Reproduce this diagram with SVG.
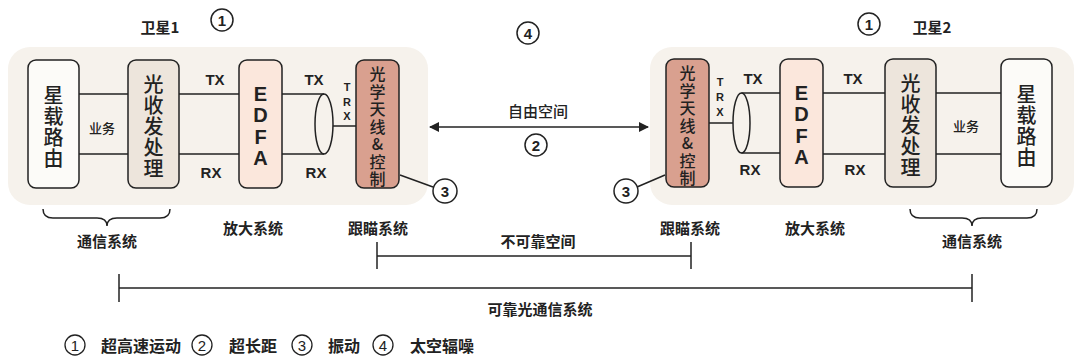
<svg xmlns="http://www.w3.org/2000/svg" width="1080" height="362" viewBox="0 0 1080 362">
<style>
  .panel{fill:#f6f2ec;stroke:none}
  .box{stroke:#222;stroke-width:1.5}
  .router{fill:#fcfbf8}
  .trx{fill:#ede5dc}
  .edfa{fill:#fbe7dc}
  .ant{fill:#d9a08f}
  .ln{stroke:#222;stroke-width:1.5;fill:none}
  .cn{font-family:"Noto Sans CJK SC","Noto Sans",sans-serif;fill:#222;text-anchor:middle;dominant-baseline:central}
  .box-t{font-size:20px;font-weight:500}
  .ant-t{font-size:16px;font-weight:500}
  .lab{font-family:"Liberation Sans","Noto Sans CJK SC",sans-serif;font-weight:700;font-size:15px;fill:#222;text-anchor:middle;dominant-baseline:central}
  .edfa-t{font-family:"Liberation Sans",sans-serif;font-weight:700;font-size:20px;fill:#222;text-anchor:middle;dominant-baseline:central}
  .small{font-family:"Liberation Sans",sans-serif;font-weight:700;font-size:11px;fill:#222;text-anchor:middle;dominant-baseline:central}
  .bold{font-weight:700;font-size:15px}
  .mid{font-size:15px;font-weight:500}
  .circ{fill:#fff;stroke:#222;stroke-width:1.5}
  .num{font-family:"Liberation Sans",sans-serif;font-weight:700;font-size:15px;fill:#222;text-anchor:middle;dominant-baseline:central}
  .lcirc{fill:none;stroke:#222;stroke-width:1.3}
  .lnum{font-family:"Liberation Sans",sans-serif;font-size:15px;fill:#222;text-anchor:middle;dominant-baseline:central}
</style>
<defs>
  <marker id="ah" viewBox="0 0 10 10" refX="9" refY="5" markerWidth="10" markerHeight="10" markerUnits="userSpaceOnUse" orient="auto-start-reverse">
    <path d="M0,0 L10,5 L0,10 z" fill="#222"/>
  </marker>
</defs>

<rect class="panel" x="8" y="47" width="420" height="158" rx="22"/>
<rect class="panel" x="650" y="47" width="424" height="158" rx="22"/>

<g id="connectors">
  <line class="ln" x1="79" y1="94" x2="128" y2="94"/>
  <line class="ln" x1="79" y1="154" x2="128" y2="154"/>
  <line class="ln" x1="179" y1="94" x2="239" y2="94"/>
  <line class="ln" x1="179" y1="154" x2="239" y2="154"/>
  <line class="ln" x1="282" y1="94" x2="324" y2="94"/>
  <line class="ln" x1="282" y1="154" x2="324" y2="154"/>
  <ellipse class="ln" cx="324" cy="124" rx="9" ry="30"/>
  <line class="ln" x1="333" y1="126" x2="356" y2="126"/>
  <line class="ln" x1="400" y1="175" x2="433" y2="187"/>
  <line class="ln" x1="709" y1="123" x2="733" y2="123"/>
  <ellipse class="ln" cx="741.5" cy="123" rx="8.5" ry="30"/>
  <line class="ln" x1="741.5" y1="93" x2="780" y2="93"/>
  <line class="ln" x1="741.5" y1="153" x2="780" y2="153"/>
  <line class="ln" x1="823" y1="93" x2="885" y2="93"/>
  <line class="ln" x1="823" y1="154" x2="885" y2="154"/>
  <line class="ln" x1="936" y1="93" x2="1001" y2="93"/>
  <line class="ln" x1="936" y1="154" x2="1001" y2="154"/>
  <line class="ln" x1="665" y1="175" x2="637" y2="187"/>
  <line class="ln" x1="430" y1="127" x2="648" y2="127" marker-start="url(#ah)" marker-end="url(#ah)"/>
  <path class="ln" d="M43,209 Q43,218 53,218 L97,218 Q107,218 107,226 Q107,218 117,218 L160,218 Q170,218 170,209"/>
  <path class="ln" d="M910,209 Q910,218 920,218 L962,218 Q972,218 972,226 Q972,218 982,218 L1027,218 Q1037,218 1037,209"/>
  <line class="ln" x1="377" y1="242" x2="377" y2="269"/>
  <line class="ln" x1="691" y1="242" x2="691" y2="269"/>
  <line class="ln" x1="377" y1="256" x2="691" y2="256"/>
  <line class="ln" x1="119" y1="274" x2="119" y2="302"/>
  <line class="ln" x1="972" y1="274" x2="972" y2="302"/>
  <line class="ln" x1="119" y1="288" x2="972" y2="288"/>
</g>

<g id="router1">
  <rect class="box router" x="28" y="60" width="51" height="128" rx="8"/>
  <text class="cn box-t"><tspan x="53.5" y="94">星</tspan><tspan x="53.5" y="115">载</tspan><tspan x="53.5" y="136">路</tspan><tspan x="53.5" y="157">由</tspan></text>
</g>
<g id="trx1">
  <rect class="box trx" x="128" y="60" width="51" height="128" rx="8"/>
  <text class="cn box-t"><tspan x="153.5" y="83">光</tspan><tspan x="153.5" y="104">收</tspan><tspan x="153.5" y="125">发</tspan><tspan x="153.5" y="146">处</tspan><tspan x="153.5" y="167">理</tspan></text>
</g>
<g id="edfa1">
  <rect class="box edfa" x="239" y="60" width="43" height="128" rx="8"/>
  <text class="edfa-t"><tspan x="260.5" y="94">E</tspan><tspan x="260.5" y="115">D</tspan><tspan x="260.5" y="137">F</tspan><tspan x="260.5" y="158">A</tspan></text>
</g>
<g id="antenna1">
  <rect class="box ant" x="356" y="60" width="43" height="128" rx="8"/>
  <text class="cn ant-t"><tspan x="377.5" y="73">光</tspan><tspan x="377.5" y="90.5">学</tspan><tspan x="377.5" y="108">天</tspan><tspan x="377.5" y="125.5">线</tspan><tspan x="377.5" y="143">&amp;</tspan><tspan x="377.5" y="160.5">控</tspan><tspan x="377.5" y="178">制</tspan></text>
</g>

<g id="antenna2">
  <rect class="box ant" x="666" y="59" width="43" height="128" rx="8"/>
  <text class="cn ant-t"><tspan x="687.5" y="72">光</tspan><tspan x="687.5" y="89.5">学</tspan><tspan x="687.5" y="107">天</tspan><tspan x="687.5" y="124.5">线</tspan><tspan x="687.5" y="142">&amp;</tspan><tspan x="687.5" y="159.5">控</tspan><tspan x="687.5" y="177">制</tspan></text>
</g>
<g id="edfa2">
  <rect class="box edfa" x="780" y="59" width="43" height="128" rx="8"/>
  <text class="edfa-t"><tspan x="801.5" y="93">E</tspan><tspan x="801.5" y="114">D</tspan><tspan x="801.5" y="136">F</tspan><tspan x="801.5" y="157">A</tspan></text>
</g>
<g id="trx2">
  <rect class="box trx" x="885" y="59" width="51" height="128" rx="8"/>
  <text class="cn box-t"><tspan x="910.5" y="82">光</tspan><tspan x="910.5" y="103">收</tspan><tspan x="910.5" y="124">发</tspan><tspan x="910.5" y="145">处</tspan><tspan x="910.5" y="166">理</tspan></text>
</g>
<g id="router2">
  <rect class="box router" x="1001" y="59" width="51" height="128" rx="8"/>
  <text class="cn box-t"><tspan x="1026.5" y="93">星</tspan><tspan x="1026.5" y="114">载</tspan><tspan x="1026.5" y="135">路</tspan><tspan x="1026.5" y="156">由</tspan></text>
</g>

<g id="labels">
  <text class="cn" style="font-size:13px;font-weight:500" x="102" y="127">业务</text>
  <text class="cn" style="font-size:13px;font-weight:500" x="966" y="125">业务</text>
  <text class="lab" x="215" y="79">TX</text>
  <text class="lab" x="211" y="172">RX</text>
  <text class="lab" x="314" y="79">TX</text>
  <text class="lab" x="316" y="172">RX</text>
  <text class="small"><tspan x="347" y="87">T</tspan><tspan x="347" y="102">R</tspan><tspan x="347" y="116">X</tspan></text>
  <text class="lab" x="753" y="78">TX</text>
  <text class="lab" x="750" y="169">RX</text>
  <text class="lab" x="853" y="78">TX</text>
  <text class="lab" x="855" y="169">RX</text>
  <text class="small"><tspan x="720" y="82">T</tspan><tspan x="720" y="97">R</tspan><tspan x="720" y="112">X</tspan></text>
  <text class="cn bold" x="160" y="26">卫星1</text>
  <text class="cn bold" x="932" y="26">卫星2</text>
  <text class="cn mid" x="538" y="110">自由空间</text>
  <text class="cn bold" x="107" y="240">通信系统</text>
  <text class="cn bold" x="253" y="227">放大系统</text>
  <text class="cn bold" x="378" y="227">跟瞄系统</text>
  <text class="cn bold" x="690" y="227">跟瞄系统</text>
  <text class="cn bold" x="815" y="227">放大系统</text>
  <text class="cn bold" x="972" y="240">通信系统</text>
  <text class="cn bold" x="538" y="240">不可靠空间</text>
  <text class="cn bold" x="540" y="308">可靠光通信系统</text>
</g>

<g id="markers">
  <circle class="circ" cx="222" cy="20" r="11"/><text class="num" x="222" y="20">1</text>
  <circle class="circ" cx="869" cy="24" r="11"/><text class="num" x="869" y="24">1</text>
  <circle class="circ" cx="528" cy="33" r="11"/><text class="num" x="528" y="33">4</text>
  <circle class="circ" cx="536" cy="145" r="11"/><text class="num" x="536" y="145">2</text>
  <circle class="circ" cx="445" cy="191" r="12"/><text class="num" x="445" y="191">3</text>
  <circle class="circ" cx="626" cy="191" r="12"/><text class="num" x="626" y="191">3</text>
</g>

<g id="legend">
  <circle class="lcirc" cx="75" cy="345" r="10"/><text class="lnum" x="75" y="345">1</text>
  <text class="cn bold" style="font-size:16px" x="141" y="345">超高速运动</text>
  <circle class="lcirc" cx="202" cy="345" r="10"/><text class="lnum" x="202" y="345">2</text>
  <text class="cn bold" style="font-size:16px" x="253" y="345">超长距</text>
  <circle class="lcirc" cx="302" cy="345" r="10"/><text class="lnum" x="302" y="345">3</text>
  <text class="cn bold" style="font-size:16px" x="344" y="345">振动</text>
  <circle class="lcirc" cx="383" cy="345" r="10"/><text class="lnum" x="383" y="345">4</text>
  <text class="cn bold" style="font-size:16px" x="442" y="345">太空辐噪</text>
</g>
</svg>
